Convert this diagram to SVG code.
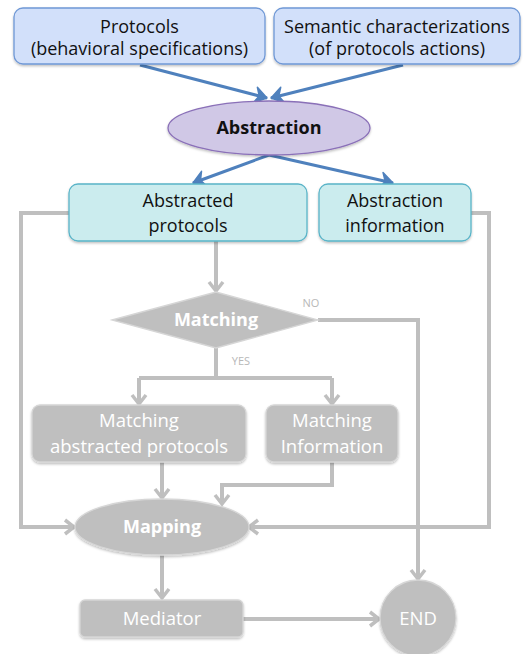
<svg xmlns="http://www.w3.org/2000/svg" width="527" height="654" viewBox="0 0 527 654">
<style>
  text { font-family: "Open Sans", "Liberation Sans", sans-serif; text-anchor: middle; }
  .t18 { font-size: 18px; fill: #111; }
  .tb { font-size: 18px; font-weight: bold; fill: #111; }
  .tg { font-size: 18.5px; fill: #ffffff; }
  .tgb { font-size: 18px; font-weight: bold; fill: #ffffff; }
  .lbl { font-size: 11px; fill: #b8b8b8; }
  .blue { fill: #d2e0fa; stroke: #6f98d6; stroke-width: 1.3; }
  .cyan { fill: #cbecee; stroke: #5ab4c8; stroke-width: 1.3; }
  .purple { fill: #d0c8e6; stroke: #8a70b8; stroke-width: 1.3; }
  .gray { fill: #bfbfbf; stroke: #d6d6d6; stroke-width: 1.3; }
  .cg { fill: none; stroke: #bfbfbf; stroke-width: 4; stroke-linejoin: miter; }
  .cb { fill: none; stroke: #4f81bd; stroke-width: 3; }
</style>
<defs>
  <filter id="sh" x="-10%" y="-10%" width="120%" height="130%">
    <feDropShadow dx="0" dy="1.5" stdDeviation="1.2" flood-color="#000" flood-opacity="0.25"/>
  </filter>
  <marker id="ag" markerUnits="userSpaceOnUse" markerWidth="20" markerHeight="20" viewBox="-12 -10 14 20" refX="0" refY="0" orient="auto">
    <path d="M-9,-7 L0,0 L-9,7" fill="none" stroke="#bfbfbf" stroke-width="3.5"/>
  </marker>
  <marker id="ab" markerUnits="userSpaceOnUse" markerWidth="24" markerHeight="24" viewBox="-14 -12 16 24" refX="0" refY="0" orient="auto">
    <path d="M0,0 L-12,-8 L-8,0 L-12,8 Z" fill="#4f81bd" stroke="#4f81bd" stroke-width="1.5" stroke-linejoin="round"/>
  </marker>
</defs>

<g id="connectors">
  <line class="cb" x1="140" y1="65" x2="267" y2="98" marker-end="url(#ab)"/>
  <line class="cb" x1="403" y1="65" x2="271" y2="98" marker-end="url(#ab)"/>
  <line class="cb" x1="269" y1="155" x2="193" y2="183" marker-end="url(#ab)"/>
  <line class="cb" x1="269" y1="155" x2="393" y2="183" marker-end="url(#ab)"/>
  <polyline class="cg" points="69,213 21,213 21,527 74,527" marker-end="url(#ag)"/>
  <polyline class="cg" points="471,213 489,213 489,527 249,527" marker-end="url(#ag)"/>
  <polyline class="cg" points="216,241 216,291" marker-end="url(#ag)"/>
  <polyline class="cg" points="318,320 418,320 418,579" marker-end="url(#ag)"/>
  <polyline class="cg" points="216,348 216,378"/>
  <polyline class="cg" points="139,378 332,378"/>
  <polyline class="cg" points="139,378 139,404" marker-end="url(#ag)"/>
  <polyline class="cg" points="332,378 332,404" marker-end="url(#ag)"/>
  <polyline class="cg" points="162,462 162,498" marker-end="url(#ag)"/>
  <polyline class="cg" points="332,462 332,485 222,485 222,504" marker-end="url(#ag)"/>
  <polyline class="cg" points="162,555 162,598" marker-end="url(#ag)"/>
  <polyline class="cg" points="243,619 379,619" marker-end="url(#ag)"/>
</g>

<g id="protocols">
  <rect class="blue" x="14" y="8" width="251" height="56" rx="9" filter="url(#sh)"/>
  <text class="t18" x="139.5" y="33">Protocols</text>
  <text class="t18" x="139.5" y="55">(behavioral specifications)</text>
</g>

<g id="semantic">
  <rect class="blue" x="274" y="8" width="246" height="56" rx="9" filter="url(#sh)"/>
  <text class="t18" x="397" y="33">Semantic characterizations</text>
  <text class="t18" x="397" y="55">(of protocols actions)</text>
</g>

<g id="abstraction">
  <ellipse class="purple" cx="269" cy="128" rx="101" ry="27" filter="url(#sh)"/>
  <text class="tb" x="269" y="134">Abstraction</text>
</g>

<g id="abstracted-protocols">
  <rect class="cyan" x="69" y="184" width="238" height="57" rx="9" filter="url(#sh)"/>
  <text class="t18" x="188" y="207">Abstracted</text>
  <text class="t18" x="188" y="232">protocols</text>
</g>

<g id="abstraction-information">
  <rect class="cyan" x="319" y="184" width="152" height="57" rx="9" filter="url(#sh)"/>
  <text class="t18" x="395" y="207">Abstraction</text>
  <text class="t18" x="395" y="232">information</text>
</g>

<g id="matching">
  <polygon class="gray" points="112,320 216,292 318,320 216,348"/>
  <text class="tgb" x="216" y="326">Matching</text>
  <text class="lbl" x="311" y="307">NO</text>
  <text class="lbl" x="241" y="365">YES</text>
</g>

<g id="matching-abstracted-protocols">
  <rect class="gray" x="32" y="405" width="214" height="57" rx="8" filter="url(#sh)"/>
  <text class="tg" x="139" y="427">Matching</text>
  <text class="tg" x="139" y="453">abstracted protocols</text>
</g>

<g id="matching-information">
  <rect class="gray" x="266" y="405" width="132" height="57" rx="8" filter="url(#sh)"/>
  <text class="tg" x="332" y="427">Matching</text>
  <text class="tg" x="332" y="453">Information</text>
</g>

<g id="mapping">
  <ellipse class="gray" cx="162" cy="527" rx="87" ry="28" filter="url(#sh)"/>
  <text class="tgb" x="162" y="533">Mapping</text>
</g>

<g id="mediator">
  <rect class="gray" x="80" y="600" width="163" height="37" rx="5" filter="url(#sh)"/>
  <text class="tg" x="162" y="625">Mediator</text>
</g>

<g id="end">
  <circle class="gray" cx="418" cy="618" r="38" filter="url(#sh)"/>
  <text class="tg" x="418" y="625">END</text>
</g>
</svg>
